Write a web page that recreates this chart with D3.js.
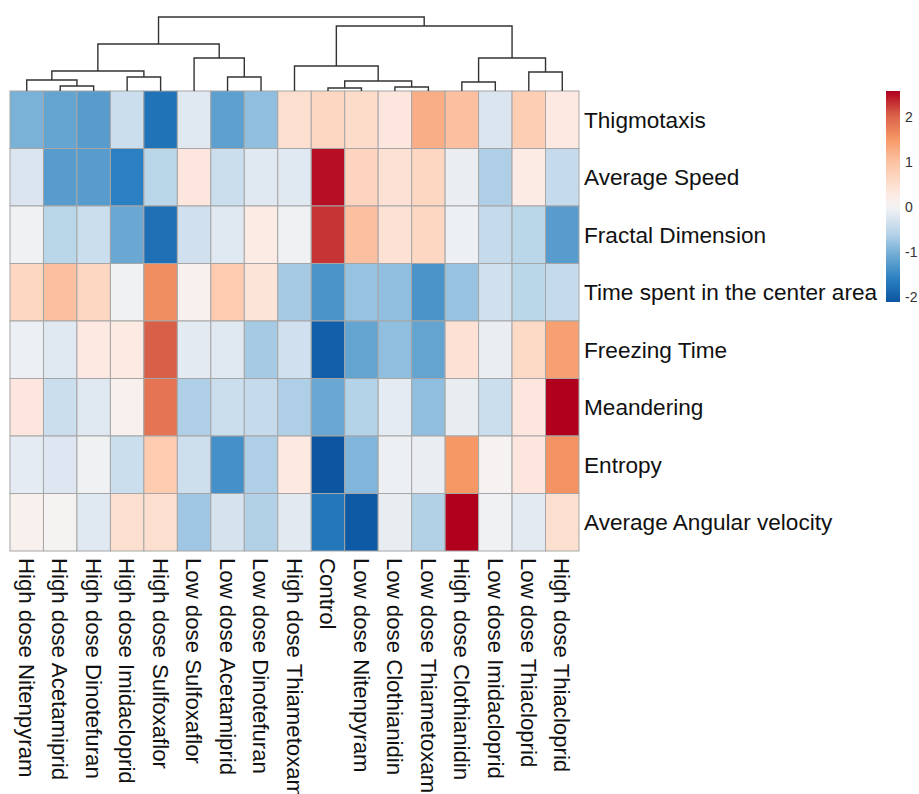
<!DOCTYPE html>
<html>
<head>
<meta charset="utf-8">
<script src="https://cdn.jsdelivr.net/npm/d3@7"></script>
<style>
  html, body { margin: 0; padding: 0; background: #fff; }
  svg { display: block; font-family: "Liberation Sans", Arial, Helvetica, sans-serif; }
</style>
</head>
<body>
<svg id="chart" width="919" height="794"></svg>
<script>
// ---------- data ----------
const columns = [
  "High dose Nitenpyram", "High dose Acetamiprid", "High dose Dinotefuran",
  "High dose Imidacloprid", "High dose Sulfoxaflor", "Low dose Sulfoxaflor",
  "Low dose Acetamiprid", "Low dose Dinotefuran", "High dose Thiametoxam",
  "Control", "Low dose Nitenpyram", "Low dose Clothianidin",
  "Low dose Thiametoxam", "High dose Clothianidin", "Low dose Imidacloprid",
  "Low dose Thiacloprid", "High dose Thiacloprid"
];
const rows = [
  "Thigmotaxis", "Average Speed", "Fractal Dimension", "Time spent in the center area",
  "Freezing Time", "Meandering", "Entropy", "Average Angular velocity"
];
const thigmotaxis   = [-1.00,-1.15,-1.25,-0.40,-1.75,-0.20,-1.20,-0.85, 0.50, 0.65, 0.55, 0.35, 1.25, 1.05,-0.25, 0.80, 0.30];
const averageSpeed  = [-0.25,-1.25,-1.25,-1.60,-0.55, 0.35,-0.40,-0.20,-0.20, 2.50, 0.70, 0.45, 0.65,-0.10,-0.65, 0.25,-0.45];
const fractalDim    = [-0.05,-0.55,-0.40,-1.10,-1.80,-0.35,-0.20, 0.25,-0.05, 2.30, 1.05, 0.45, 0.65,-0.08,-0.45,-0.55,-1.25];
const timeCenter    = [ 0.65, 1.05, 0.65,-0.05, 1.60, 0.10, 0.85, 0.40,-0.70,-1.35,-0.80,-0.85,-1.35,-0.80,-0.35,-0.55,-0.45];
const freezingTime  = [-0.08,-0.20, 0.30, 0.28, 2.05,-0.17,-0.20,-0.70,-0.35,-2.00,-1.15,-0.85,-1.15, 0.45,-0.10, 0.60, 1.40];
const meandering    = [ 0.35,-0.40,-0.20, 0.12, 1.85,-0.65,-0.40,-0.45,-0.65,-1.10,-0.60,-0.15,-0.85,-0.12,-0.40, 0.35, 2.58];
const entropy       = [-0.15,-0.22,-0.05,-0.40, 0.85,-0.38,-1.40,-0.65, 0.30,-2.11,-0.95,-0.07,-0.10, 1.50, 0.05, 0.35, 1.55];
const angularVel    = [ 0.12, 0.03,-0.20, 0.50, 0.50,-0.75,-0.30,-0.62,-0.18,-1.70,-2.05,-0.12,-0.62, 2.58,-0.05,-0.17, 0.50];
const seriesValues = [thigmotaxis, averageSpeed, fractalDim, timeCenter, freezingTime, meandering, entropy, angularVel];

// colour ramp (value stops and colours)
const colorStops  = [-2.11, -1.6, -1.1, -0.6, -0.2, 0, 0.3, 0.65, 1.05, 1.5, 2.05, 2.58];
const colorRange  = ["#0b55a1","#2a80c0","#6aa8d3","#b5d3e8","#e0e8f1","#f4f4f4","#fde9e2","#fdd7c1","#fcbf9f","#f69866","#d96048","#b0001e"];
const legendTicks = [2, 1, 0, -1, -2];

// column dendrogram: [childA, childB, height]; ids < 17 are leaves, 17+k is merge k
const merges = [
  [9, 10, 3], [11, 12, 4], [1, 2, 5], [13, 14, 9], [17, 18, 10], [0, 19, 11],
  [3, 4, 14], [6, 7, 14], [15, 16, 19], [22, 23, 20], [8, 21, 25], [5, 24, 33],
  [20, 25, 33], [26, 28, 47], [27, 29, 65], [30, 31, 74]
];

// ---------- layout ----------
const svg = d3.select("#chart");
const hmLeft = 10, hmRight = 579, hmTop = 91, hmBottom = 551;

const x = d3.scaleBand().domain(columns).range([hmLeft, hmRight]);
const y = d3.scaleBand().domain(rows).range([hmTop, hmBottom]);
const color = d3.scaleLinear().domain(colorStops).range(colorRange).interpolate(d3.interpolateRgb).clamp(true);

// ---------- heatmap ----------
const cells = [];
rows.forEach((r, i) => columns.forEach((c, j) => cells.push({ r, c, v: seriesValues[i][j] })));
svg.append("g").selectAll("rect").data(cells).join("rect")
  .attr("x", d => x(d.c)).attr("y", d => y(d.r))
  .attr("width", x.bandwidth()).attr("height", y.bandwidth())
  .attr("fill", d => color(d.v))
  .attr("stroke", "#a6a6a6").attr("stroke-width", 1);

// ---------- dendrogram ----------
const nLeaf = columns.length;
const maxH = d3.max(merges, m => m[2]);
const hy = d3.scaleLinear().domain([0, maxH]).range([hmTop, 17]);
const nodeX = {}, nodeY = {};
columns.forEach((c, i) => { nodeX[i] = x(c) + x.bandwidth() / 2; nodeY[i] = hmTop; });
const segs = [];
merges.forEach((m, k) => {
  const id = nLeaf + k, [a, b, h] = m, yy = hy(h);
  nodeX[id] = (nodeX[a] + nodeX[b]) / 2; nodeY[id] = yy;
  segs.push(`M${nodeX[a]},${nodeY[a]}V${yy}H${nodeX[b]}V${nodeY[b]}`);
});
svg.append("g").selectAll("path").data(segs).join("path")
  .attr("d", d => d).attr("fill", "none")
  .attr("stroke", "#333").attr("stroke-width", 1.4);

// ---------- labels ----------
svg.append("g").selectAll("text").data(rows).join("text")
  .attr("x", hmRight + 5).attr("y", d => y(d) + y.bandwidth() / 2)
  .attr("dy", "0.35em").attr("font-size", 22.6).attr("fill", "#111")
  .text(d => d);

svg.append("g").selectAll("text").data(columns).join("text")
  .attr("transform", d => `translate(${x(d) + x.bandwidth() / 2},${hmBottom + 7}) rotate(90)`)
  .attr("dy", "0.35em").attr("font-size", 22.2).attr("fill", "#111")
  .text(d => d);

// ---------- legend ----------
const lgX = 886, lgW = 14, lgTop = 91, lgBottom = 302;
const ly = d3.scaleLinear().domain([colorStops[0], colorStops[colorStops.length - 1]]).range([lgBottom, lgTop]);
const defs = svg.append("defs");
const grad = defs.append("linearGradient").attr("id", "lg").attr("x1", 0).attr("y1", 1).attr("x2", 0).attr("y2", 0);
grad.selectAll("stop").data(d3.range(0, 1.0001, 0.02)).join("stop")
  .attr("offset", t => t)
  .attr("stop-color", t => color(ly.domain()[0] + t * (ly.domain()[1] - ly.domain()[0])));
svg.append("rect").attr("x", lgX).attr("y", lgTop).attr("width", lgW).attr("height", lgBottom - lgTop)
  .attr("fill", "url(#lg)");
svg.append("g").selectAll("text").data(legendTicks).join("text")
  .attr("x", lgX + lgW + 5).attr("y", d => ly(d)).attr("dy", "0.35em")
  .attr("font-size", 14).attr("fill", "#333")
  .text(d => d);
</script>
</body>
</html>
